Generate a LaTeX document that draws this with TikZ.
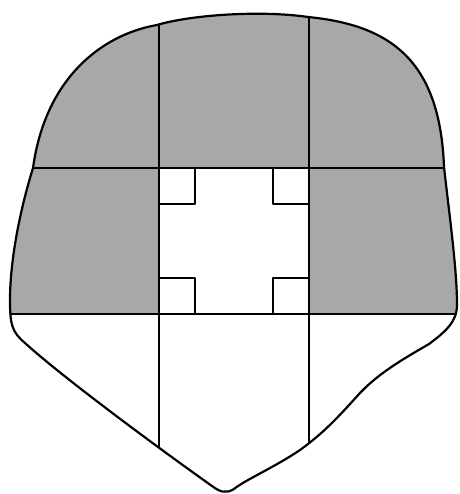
\documentclass[tikz,border=0pt]{standalone}
\begin{document}
\begin{tikzpicture}[x=1pt,y=-1pt,
  outline/.style={line width=2.2pt, line join=round},
  gridline/.style={line width=1.8pt},
  cornerbox/.style={line width=1.5pt, line join=round},
  shade/.style={fill=black!34}]
\useasboundingbox (0,0) rectangle (459,494);
\begin{scope}
\clip (33,168) .. controls (45,80) and (100,35) .. (157,25)
  .. controls (190,15) and (260,10) .. (308,17)
  .. controls (390,25) and (440,60) .. (444,167)
  .. controls (450,220) and (457,270) .. (457,305)
  .. controls (457,322) and (445,332) .. (429,344)
  .. controls (405,358) and (380,372) .. (360,393)
  .. controls (340,415) and (325,432) .. (300,450)
  .. controls (275,467) and (245,480) .. (234,489)
  .. controls (226,494) and (220,492) .. (212,486)
  .. controls (150,442) and (60,375) .. (25,343)
  .. controls (12,332) and (10,325) .. (10,300)
  .. controls (10,260) and (20,210) .. (33,168) -- cycle;
\fill[shade] (0,0) rectangle (459,168);
\fill[shade] (0,168) rectangle (159,314);
\fill[shade] (308,168) rectangle (459,314);
\draw[gridline] (159,0) -- (159,494);
\draw[gridline] (309,0) -- (309,494);
\draw[gridline] (0,168) -- (459,168);
\draw[gridline] (0,314) -- (459,314);
\end{scope}
\draw[cornerbox] (159,168) rectangle (195,204);
\draw[cornerbox] (273,168) rectangle (309,204);
\draw[cornerbox] (159,278) rectangle (195,314);
\draw[cornerbox] (273,278) rectangle (309,314);
\draw[outline] (33,168) .. controls (45,80) and (100,35) .. (157,25)
  .. controls (190,15) and (260,10) .. (308,17)
  .. controls (390,25) and (440,60) .. (444,167)
  .. controls (450,220) and (457,270) .. (457,305)
  .. controls (457,322) and (445,332) .. (429,344)
  .. controls (405,358) and (380,372) .. (360,393)
  .. controls (340,415) and (325,432) .. (300,450)
  .. controls (275,467) and (245,480) .. (234,489)
  .. controls (226,494) and (220,492) .. (212,486)
  .. controls (150,442) and (60,375) .. (25,343)
  .. controls (12,332) and (10,325) .. (10,300)
  .. controls (10,260) and (20,210) .. (33,168) -- cycle;
\end{tikzpicture}
\end{document}
